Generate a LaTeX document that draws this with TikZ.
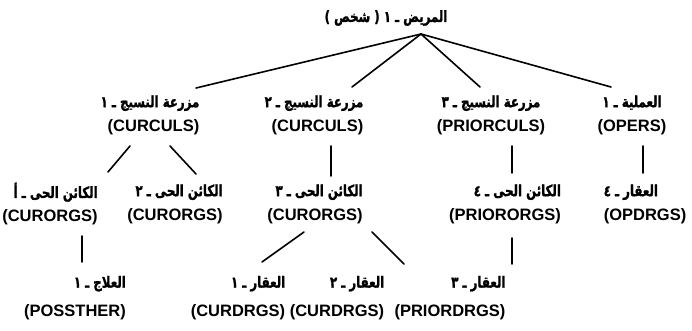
\documentclass[tikz,border=0pt]{standalone}
\usepackage{fontspec}
\setmainfont{Liberation Sans}
\newfontfamily\arabicfont[Script=Arabic,FakeStretch=0.76,BoldFeatures={FakeBold=1.3}]{DejaVu Sans}
\TeXXeTstate=1
% Arabic line of an entry
\newcommand{\ar}[1]{{\arabicfont\bfseries\fontsize{15.5}{24}\selectfont\beginR #1\endR}}

\begin{document}
\begin{tikzpicture}[x=1pt,y=-1pt,
  entry/.style={align=right,inner sep=1pt,font=\bfseries\fontsize{16.5}{24}\selectfont},
  link/.style={line width=1.6pt,line cap=round}]
\useasboundingbox (0,0) rectangle (692,331); %Fixes the size of the picture
%Root
\node[entry] (pat) at (386,18) {\ar{المريض ـ ١ ( شخص )}};
%First level
\node[entry] (cul1) at (150,115) {\ar{مزرعة النسيج ـ ١}\\(CURCULS)};
\node[entry] (cul2) at (314,115) {\ar{مزرعة النسيج ـ ٢}\\(CURCULS)};
\node[entry,align=center] (cul3) at (491,115) {\ar{مزرعة النسيج ـ ٣}\\(PRIORCULS)};
\node[entry,align=center] (oper) at (632,115) {\ar{العملية ـ ١}\\(OPERS)};
%Second level
\node[entry] (org1) at (50,204) {\ar{الكائن الحى ـ أ}\\(CURORGS)};
\node[entry] (org2) at (175,204) {\ar{الكائن الحى ـ ٢}\\(CURORGS)};
\node[entry] (org3) at (315,204) {\ar{الكائن الحى ـ ٣}\\(CURORGS)};
\node[entry] (org4) at (505,204) {\ar{الكائن الحى ـ ٤}\\(PRIORORGS)};
\node[entry,align=left] (drg4) at (645,204) {\ar{العقار ـ ٤}\\(OPDRGS)};
%Third level
\node[entry] (ther) at (75,298) {\ar{العلاج ـ ١}\\[5pt](POSSTHER)};
\node[entry] (drg1) at (238,298) {\ar{العقار ـ ١}\\[5pt](CURDRGS)};
\node[entry] (drg2) at (337,298) {\ar{العقار ـ ٢}\\[5pt](CURDRGS)};
\node[entry] (drg3) at (450,298) {\ar{العقار ـ ٣}\\[5pt](PRIORDRGS)};
%Links from the root (all start at one point under the root)
\draw[link] ([xshift=35pt,yshift=-16pt]pat.center) -- ([xshift=46pt,yshift=27pt]cul1.center);
\draw[link] ([xshift=35pt,yshift=-16pt]pat.center) -- ([xshift=38pt,yshift=28pt]cul2.center);
\draw[link] ([xshift=35pt,yshift=-16pt]pat.center) -- ([xshift=-11pt,yshift=28pt]cul3.center);
\draw[link] ([xshift=35pt,yshift=-16pt]pat.center) -- ([xshift=-21pt,yshift=28pt]oper.center);
%Links to the second level
\draw[link] ([xshift=-20pt,yshift=-31pt]cul1.center) -- ([xshift=58pt,yshift=32pt]org1.center);
\draw[link] ([xshift=20pt,yshift=-31pt]cul1.center) -- ([xshift=21pt,yshift=30pt]org2.center);
\draw[link] ([xshift=17pt,yshift=-31pt]cul2.center) -- ([xshift=16pt,yshift=28pt]org3.center);
\draw[link] ([xshift=21pt,yshift=-31pt]cul3.center) -- ([xshift=7pt,yshift=31pt]org4.center);
\draw[link] ([xshift=11pt,yshift=-31pt]oper.center) -- ([xshift=-2pt,yshift=31pt]drg4.center);
%Links to the third level
\draw[link] ([xshift=32pt,yshift=-32pt]org1.center) -- ([xshift=7pt,yshift=36pt]ther.center);
\draw[link] ([xshift=-11pt,yshift=-28pt]org3.center) -- ([xshift=24pt,yshift=36pt]drg1.center);
\draw[link] ([xshift=57pt,yshift=-28pt]org3.center) -- ([xshift=67pt,yshift=34pt]drg2.center);
\draw[link] ([xshift=7pt,yshift=-34pt]org4.center) -- ([xshift=62pt,yshift=34pt]drg3.center);
\end{tikzpicture}
\end{document}
